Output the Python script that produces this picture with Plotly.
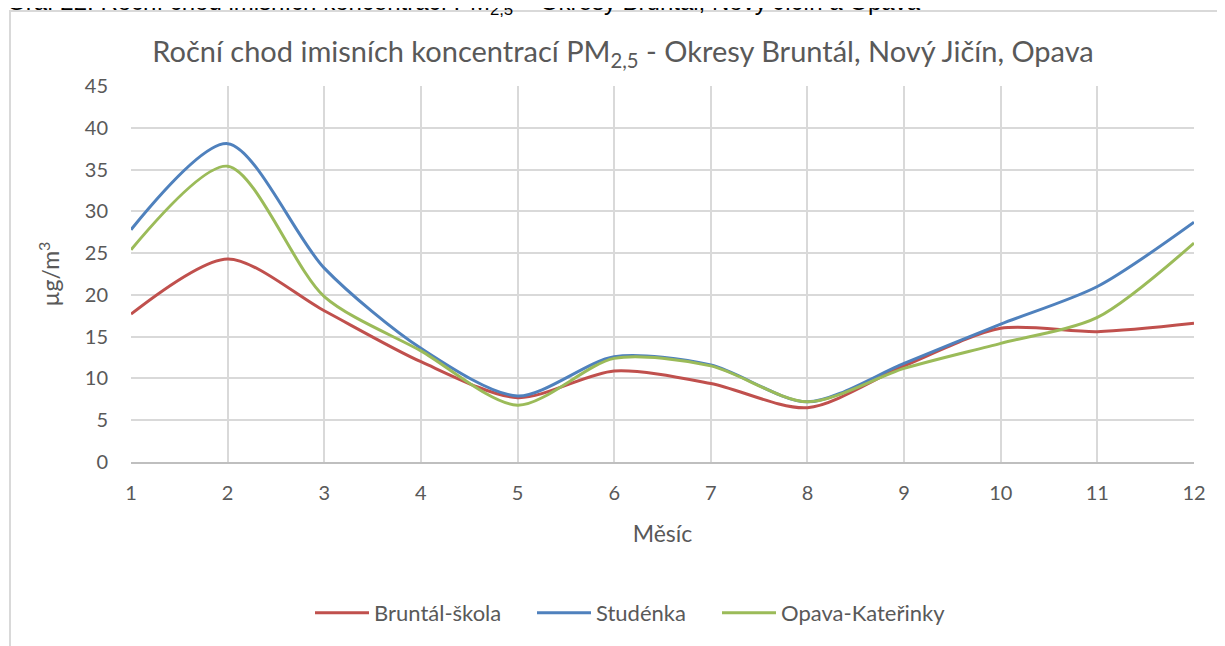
import plotly.graph_objects as go

months = [1, 2, 3, 4, 5, 6, 7, 8, 9, 10, 11, 12]
bruntal = [17.7, 24.3, 18.1, 12.0, 7.7, 10.9, 9.4, 6.5, 11.5, 16.0, 15.6, 16.6]
studenka = [27.8, 38.1, 23.2, 13.6, 7.9, 12.6, 11.6, 7.2, 11.8, 16.5, 21.0, 28.7]
opava = [25.4, 35.4, 19.8, 13.3, 6.8, 12.4, 11.5, 7.2, 11.2, 14.2, 17.3, 26.2]

series = [("Bruntál-škola", bruntal, "#c0504d", "legend", 315),
          ("Studénka", studenka, "#4f81bd", "legend2", 537),
          ("Opava-Kateřinky", opava, "#9bbb59", "legend3", 722)]

OFF = 8  # page body margin
W, H = 1225 - OFF, 646 - OFF
# plot area in page pixels: x 131..1194, y 86..462
L, R, T, B = 131 - OFF, 1225 - 1194, 86 - OFF, 646 - 462
pw, ph = W - L - R, H - T - B

def px(x):
    return (x - OFF - L) / pw

def py(y):
    return (H - B - (y - OFF)) / ph

grey = "#595959"
fig = go.Figure()
legends = {}
for name, vals, col, leg, lx in series:
    fig.add_trace(go.Scatter(x=months, y=vals, name=name, mode="lines", legend=leg,
                             line=dict(color=col, width=3, shape="spline", smoothing=0.8)))
    legends[leg] = dict(orientation="h", x=px(lx - 5), xanchor="left", y=py(613), yanchor="middle",
                        font=dict(size=22, color=grey), itemwidth=54, bgcolor="rgba(0,0,0,0)")

fig.update_layout(
    width=W, height=H,
    margin=dict(l=L, r=R, t=T, b=B),
    paper_bgcolor="white", plot_bgcolor="white",
    font=dict(family="Lato, Open Sans, sans-serif", color=grey, size=20),
    title=dict(text="Roční chod imisních koncentrací PM<sub>2,5</sub> - Okresy Bruntál, Nový Jičín, Opava",
               x=px(623), xanchor="center", xref="paper", y=1 - (52 - OFF) / H, yanchor="middle",
               font=dict(size=29, color=grey)),
    xaxis=dict(range=[1, 12], tickmode="array", tickvals=months, showgrid=True,
               gridcolor="#d9d9d9", gridwidth=2, showline=True, linecolor="#bfbfbf", linewidth=2,
               zeroline=False, ticks="", ticklabelstandoff=12, tickfont=dict(size=20, color=grey),
               title=dict(text="Měsíc", font=dict(size=23, color=grey), standoff=23)),
    yaxis=dict(range=[0, 45], tickmode="linear", tick0=0, dtick=5, showgrid=True,
               gridcolor="#d9d9d9", gridwidth=2, zeroline=False, ticks="",
               ticklabelstandoff=22,
               tickfont=dict(size=20, color=grey),
               title=dict(text="µg/m<sup>3</sup>", font=dict(size=23, color=grey), standoff=18)),
    showlegend=True,
    **legends,
)

# outer chart frame
fig.add_shape(type="rect", xref="paper", yref="paper",
              x0=px(10), x1=px(1240), y0=py(660), y1=py(11),
              line=dict(color="#d9d9d9", width=2), fillcolor="rgba(0,0,0,0)", layer="below")

# cut-off caption at the very top
fig.add_annotation(text="Graf 22: Roční chod imisních koncentrací PM<sub>2,5</sub> – Okresy Bruntál, Nový Jičín a Opava",
                   xref="paper", yref="paper", x=px(5), y=py(3), xanchor="left", yanchor="middle",
                   showarrow=False, font=dict(family="Liberation Sans Narrow, Liberation Sans, sans-serif",
                                              size=24, color="#000000"))

fig.write_html("out.html")
